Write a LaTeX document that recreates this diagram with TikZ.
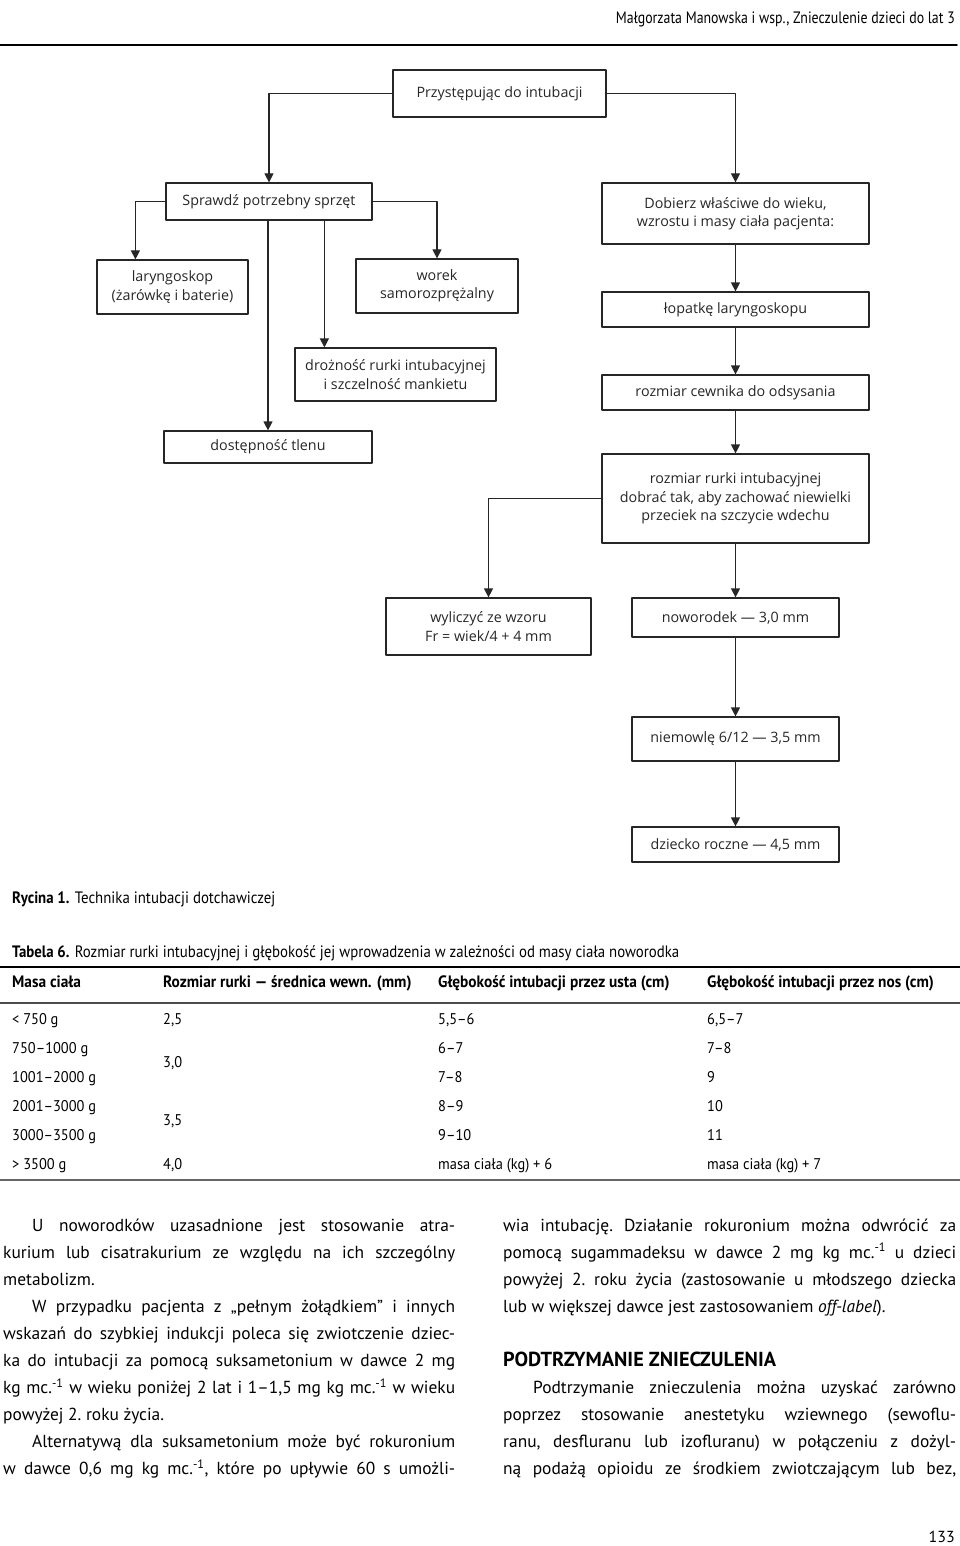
\documentclass[tikz,border=0pt]{standalone}
\usepackage{fontspec}
\setmainfont{Open Sans}
\newfontfamily\condfont[FakeStretch=0.84]{PT Sans}
\newfontfamily\capfont[FakeStretch=0.9]{PT Sans}
\newfontfamily\tabfont[FakeStretch=0.93]{PT Sans}
\newfontfamily\bodyfont{PT Sans}
\usetikzlibrary{arrows.meta,positioning}

\tikzset{
  box/.style={draw=black!85,line width=1.2pt,inner sep=0pt,align=center,
    text=black!85,font=\fontsize{14.3}{18.5}\selectfont},
  arr/.style={draw=black!85,line width=1.2pt,-{Triangle[width=9pt,length=9pt]}},
  cell/.style={anchor=base west,inner sep=0pt,font=\tabfont\fontsize{15.5}{17}\selectfont},
  headcell/.style={cell,font=\tabfont\bfseries\fontsize{16.5}{17}\selectfont},
  column/.style={anchor=base west,inner sep=0pt,text width=#1,align=justify,
    font=\bodyfont\fontsize{17.4}{27.1}\selectfont\frenchspacing}
}

\begin{document}
\begin{tikzpicture}[x=1pt,y=-1pt,line cap=round,line join=round]
  \useasboundingbox (0,0) rectangle (960,1546);
  % running head
  \node[anchor=base east,inner sep=0pt,font=\condfont\fontsize{16.5}{17}\selectfont] (head) at (955,24)
    {Małgorzata Manowska i wsp., Znieczulenie dzieci do lat 3};
  \draw[line width=1.5pt] (0,45) -- (957,45);

  % flowchart
  \node[box,minimum width=213pt,minimum height=47pt] (start) at (499.5,93.5) {Przystępując do intubacji};
  \node[box,minimum width=206pt,minimum height=37pt] (check) at (269,201.5) {Sprawdź potrzebny sprzęt};
  \node[box,minimum width=267pt,minimum height=61pt] (choose) at (735.5,213.5) {Dobierz właściwe do wieku,\\wzrostu i masy ciała pacjenta:};
  \node[box,minimum width=151pt,minimum height=54pt] (laryng) at (172.5,287) {laryngoskop\\(żarówkę i baterie)};
  \node[box,minimum width=162pt,minimum height=54pt] (bag) at (437,286) {worek\\samorozprężalny};
  \node[box,minimum width=201pt,minimum height=53pt] (tube) at (395.5,374.5) {drożność rurki intubacyjnej\\i szczelność mankietu};
  \node[box,minimum width=208pt,minimum height=32pt] (oxygen) at (268,447) {dostępność tlenu};
  \node[box,minimum width=267pt,minimum height=35pt] (blade) at (735.5,309.5) {łopatkę laryngoskopu};
  \node[box,minimum width=267pt,minimum height=35pt] (suction) at (735.5,392.5) {rozmiar cewnika do odsysania};
  \node[box,minimum width=267pt,minimum height=89pt] (size) at (735.5,498.5) {rozmiar rurki intubacyjnej\\dobrać tak, aby zachować niewielki\\przeciek na szczycie wdechu};
  \node[box,minimum width=205pt,minimum height=57pt] (formula) at (488.5,626.5) {wyliczyć ze wzoru\\Fr = wiek/4 + 4 mm};
  \node[box,minimum width=207pt,minimum height=39pt] (newborn) at (735.5,617.5) {noworodek — 3,0 mm};
  \node[box,minimum width=207pt,minimum height=44pt] (infant) at (735.5,739) {niemowlę 6/12 — 3,5 mm};
  \node[box,minimum width=207pt,minimum height=35pt] (oneyear) at (735.5,844.5) {dziecko roczne — 4,5 mm};

  \draw[arr] (start.west) -| (check.north);
  \draw[arr] (start.east) -| (choose.north);
  \draw[arr] (check.west) -| ([xshift=39pt]laryng.north west);
  \draw[arr] (check.east) -| (bag.north);
  \draw[arr] (oxygen.north |- check.south) -- (oxygen.north);
  \draw[arr] ([xshift=30pt]tube.north west |- check.south) -- ([xshift=30pt]tube.north west);
  \draw[arr] (choose) -- (blade);
  \draw[arr] (blade) -- (suction);
  \draw[arr] (suction) -- (size);
  \draw[arr] (size.west) -| (formula.north);
  \draw[arr] (size) -- (newborn);
  \draw[arr] (newborn) -- (infant);
  \draw[arr] (infant) -- (oneyear);

  % captions
  \node[cell,font=\capfont\fontsize{16.5}{17}\selectfont] (fig) at (12,903)
    {\textbf{Rycina 1.} Technika intubacji dotchawiczej};
  \node[cell,font=\capfont\fontsize{16.5}{17}\selectfont] (tab) at (12,957)
    {\textbf{Tabela 6.} Rozmiar rurki intubacyjnej i głębokość jej wprowadzenia w zależności od masy ciała noworodka};

  % table
  \draw[line width=1.2pt] (0,967) -- (960,967);
  \draw[line width=2pt,black!70] (0,1003) -- (960,1003);
  \draw[line width=2.5pt,black!60] (0,1180) -- (960,1180);
  \node[headcell] (h1) at (12,987) {Masa ciała};
  \node[headcell] (h2) at (163,987) {Rozmiar rurki — średnica wewn. (mm)};
  \node[headcell] (h3) at (438,987) {Głębokość intubacji przez usta (cm)};
  \node[headcell] (h4) at (707,987) {Głębokość intubacji przez nos (cm)};
  \foreach \y/\a/\c/\d [count=\r] in {1024/{< 750 g}/{5,5–6}/{6,5–7},
      1053/{750–1000 g}/{6–7}/{7–8}, 1082/{1001–2000 g}/{7–8}/9,
      1111/{2001–3000 g}/{8–9}/10, 1140/{3000–3500 g}/{9–10}/11,
      1169/{> 3500 g}/{masa ciała (kg) + 6}/{masa ciała (kg) + 7}}{
    \node[cell] (m\r) at (12,\y) {\a};
    \node[cell] (u\r) at (438,\y) {\c};
    \node[cell] (n\r) at (707,\y) {\d};
  }
  \foreach \y/\s [count=\k] in {1024/{2,5},1067/{3,0},1125/{3,5},1169/{4,0}}
    \node[cell] (s\k) at (163,\y) {\s};

  % text columns
  \node[column=452pt] (left) at (3,1231) {\tolerance=10000 \hyphenpenalty=10000
    \hspace*{29pt}U noworodków uzasadnione jest stosowanie atra-\linebreak
    kurium lub cisatrakurium ze względu na ich szczególny\linebreak
    metabolizm.\\
    \hspace*{29pt}W przypadku pacjenta z „pełnym żołądkiem” i innych\linebreak
    wskazań do szybkiej indukcji poleca się zwiotczenie dziec-\linebreak
    ka do intubacji za pomocą suksametonium w dawce 2 mg\linebreak
    kg mc.\textsuperscript{-1} w wieku poniżej 2 lat i 1–1,5 mg kg mc.\textsuperscript{-1} w wieku\linebreak
    powyżej 2. roku życia.\\
    \hspace*{29pt}Alternatywą dla suksametonium może być rokuronium\linebreak
    w dawce 0,6 mg kg mc.\textsuperscript{-1}, które po upływie 60 s umożli-\linebreak\mbox{}};
  \node[column=453pt] (right) at (503,1231) {\tolerance=10000 \hyphenpenalty=10000
    wia intubację. Działanie rokuronium można odwrócić za\linebreak
    pomocą sugammadeksu w dawce 2 mg kg mc.\textsuperscript{-1} u dzieci\linebreak
    powyżej 2. roku życia (zastosowanie u młodszego dziecka\linebreak
    lub w większej dawce jest zastosowaniem \textit{off-label}).\\[27.1pt]
    {\bfseries\fontsize{20.3}{27.1}\selectfont PODTRZYMANIE ZNIECZULENIA}\\
    \hspace*{30pt}Podtrzymanie znieczulenia można uzyskać zarówno\linebreak
    poprzez stosowanie anestetyku wziewnego (sewoflu-\linebreak
    ranu, desfluranu lub izofluranu) w połączeniu z dożyl-\linebreak
    ną podażą opioidu ze środkiem zwiotczającym lub bez,\linebreak\mbox{}};

  % page number
  \node[anchor=base east,inner sep=0pt,font=\bodyfont\fontsize{16}{17}\selectfont] (page) at (955,1542) {133};
\end{tikzpicture}
\end{document}
